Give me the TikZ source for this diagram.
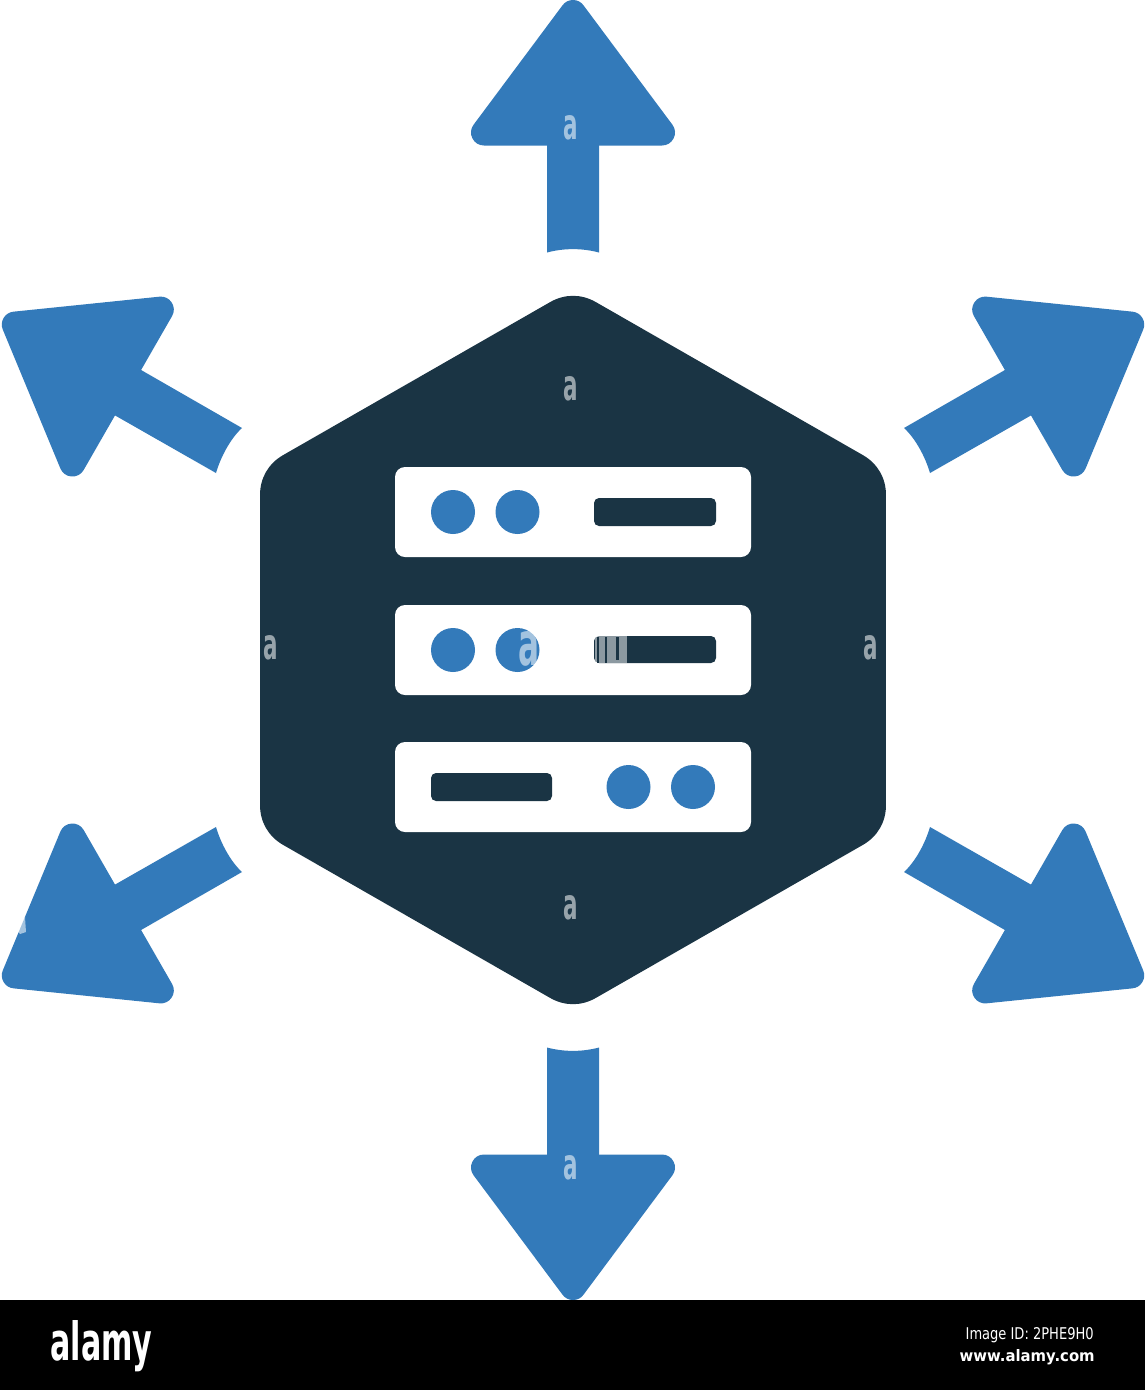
\documentclass[tikz,border=0pt]{standalone}
\usepackage{fontspec}
\setmainfont{DejaVu Sans}
\definecolor{iconblue}{HTML}{337ABA}
\definecolor{icondark}{HTML}{1A3444}
\tikzset{
  bluefill/.style={fill=iconblue,draw=none},
  bluehead/.style={fill=iconblue,draw=iconblue,line width=0.52cm,line join=round},
  darkhex/.style={fill=icondark,draw=icondark,line width=1.84cm,line join=round},
  darkfill/.style={fill=icondark,draw=none},
  whitefill/.style={fill=white,draw=none},
  wmark/.style={text=white,text opacity=0.55,inner sep=0pt,anchor=base},
  foot/.style={text=white,inner sep=0pt},
}
\newcommand{\wmglyph}{\resizebox{0.29cm}{0.48cm}{\bfseries a}}
% straight arrow, offsets from the centre of the hexagon
\newcommand{\vertarrow}{%
  \path[bluehead] (0,-637) -- (89,-517.5) -- (-89,-517.5) -- cycle;
  \fill[bluefill] (-26,-530) -- (26,-530) -- (26,-397.5) .. controls (9,-402) and (-9,-402) .. (-26,-397.5) -- cycle;
}
% diagonal arrow, offsets from the centre of the hexagon
\newcommand{\diagarrow}{%
  \path[bluehead] (412.2,-340.4) -- (558.2,-325.4) -- (500.6,-186.5) -- cycle;
  \fill[bluefill] (458,-295) -- (331,-222) .. controls (342,-212) and (352,-194) .. (357,-177) -- (485,-250) -- cycle;
}
\begin{document}
\begin{tikzpicture}[x=0.02cm,y=-0.02cm]
\path[use as bounding box] (0,0) rectangle (1145,1390);
\fill[white] (0,0) rectangle (1145,1390);
\fill[black] (0,1300) rectangle (1145,1390);

% hexagon
\path[darkhex] (573,342) -- (840,495) -- (840,805) -- (573,958) -- (306,805) -- (306,495) -- cycle;

% arrows
\begin{scope}[shift={(573,650)}]
  \vertarrow
  \begin{scope}[yscale=-1]\vertarrow\end{scope}
  \diagarrow
  \begin{scope}[xscale=-1]\diagarrow\end{scope}
  \begin{scope}[yscale=-1]\diagarrow\end{scope}
  \begin{scope}[xscale=-1,yscale=-1]\diagarrow\end{scope}
\end{scope}

% server rows
\fill[whitefill,rounded corners=0.2cm] (395,467) rectangle (751,557);
\fill[whitefill,rounded corners=0.2cm] (395,605) rectangle (751,695);
\fill[whitefill,rounded corners=0.2cm] (395,742) rectangle (751,832);

\fill[bluefill] (453,512) circle (22);
\fill[bluefill] (517.5,512) circle (22);
\fill[darkfill,rounded corners=0.1cm] (594,498) rectangle (716,526);

\fill[bluefill] (453,650) circle (22);
\fill[bluefill] (517.5,650) circle (22);
\fill[darkfill,rounded corners=0.1cm] (594,636) rectangle (716,663);

\fill[darkfill,rounded corners=0.1cm] (431,773) rectangle (552,801);
\fill[bluefill] (628.5,787) circle (22);
\fill[bluefill] (693,787) circle (22);

% watermark
\node[wmark] (wa) at (571,139) {\wmglyph};
\node[wmark] (wb) at (571,400) {\wmglyph};
\node[wmark] (wc) at (271,659) {\wmglyph};
\node[wmark] (wd) at (529,665) {\resizebox{0.42cm}{0.68cm}{\bfseries a}};
\node[wmark] (we) at (871,659) {\wmglyph};
\node[wmark] (wf) at (571,919) {\wmglyph};
\node[wmark] (wg) at (571,1179) {\wmglyph};
\fill[white,opacity=0.55] (25,917) -- (26,932) -- (20,934) -- (17,930) -- cycle;
\fill[white,opacity=0.5] (595,636) rectangle (627,663);
\fill[darkfill] (597,637) rectangle (599,663);
\fill[darkfill] (605,637) rectangle (607,663);
\fill[darkfill] (616,637) rectangle (619,660);

% footer
\node[foot,anchor=base west] (logo) at (50,1360) {\resizebox{2.04cm}{0.8cm}{\bfseries alamy}};
\node[foot,anchor=base east] (imgid) at (1094,1339) {\resizebox{2.56cm}{0.24cm}{Image ID: 2PHE9H0}};
\node[foot,anchor=base east] (url) at (1095,1361) {\resizebox{2.7cm}{0.24cm}{\bfseries www.alamy.com}};
\end{tikzpicture}
\end{document}
